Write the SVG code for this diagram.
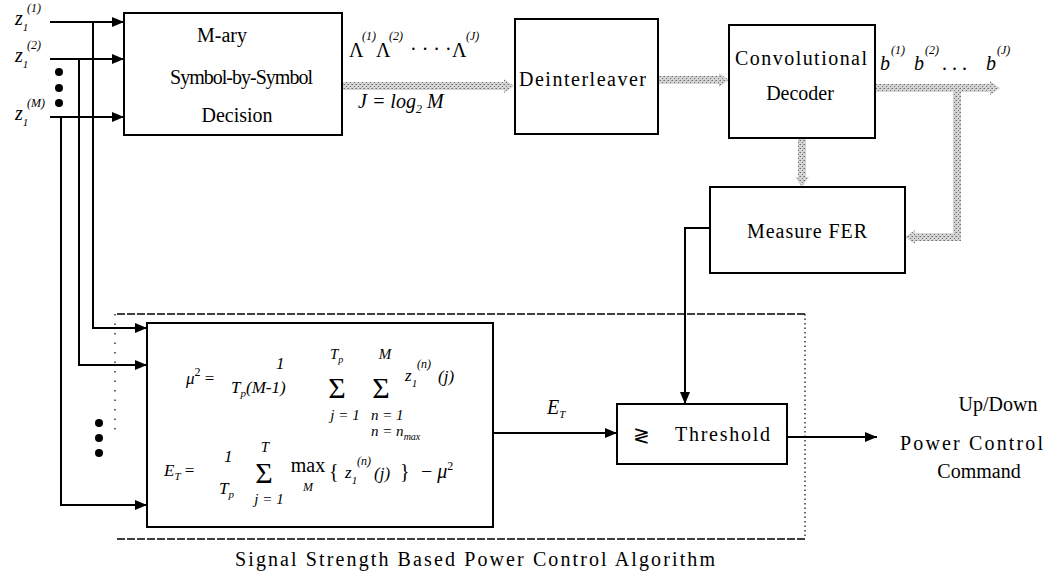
<svg xmlns="http://www.w3.org/2000/svg" width="1063" height="575" viewBox="0 0 1063 575">
<style>
.box{fill:#fff;stroke:#000;stroke-width:2}
.ln{fill:none;stroke:#000;stroke-width:2}
.t{font-family:"Liberation Serif","Times New Roman",serif;font-size:20px;fill:#000}
.i{font-style:italic}
.s{font-size:12px}
.m{font-size:17px;font-style:italic}
.lim{font-size:15px;font-style:italic}
.sig{font-size:30px}
.hat{fill:url(#hatch)}
.dot{fill:#000}
</style>
<defs>
<pattern id="hatch" width="4" height="4" patternUnits="userSpaceOnUse">
<rect width="4" height="4" fill="#d4d4d4"/>
<rect width="1" height="1" fill="#707070"/>
<rect x="2" y="2" width="1" height="1" fill="#707070"/>
<rect x="3" y="0" width="1" height="1" fill="#9c9c9c"/>
</pattern>
<marker id="arr" markerUnits="userSpaceOnUse" markerWidth="12" markerHeight="10" refX="12" refY="5" orient="auto">
<path d="M0,0 L12,5 L0,10 Z" fill="#000"/>
</marker>
</defs>

<g id="inputs">
<text class="t i" x="15" y="25" font-size="18">z<tspan dy="6" font-size="11">1</tspan></text><text class="t i s" x="27" y="12">(1)</text>
<text class="t i" x="15" y="62" font-size="18">z<tspan dy="6" font-size="11">1</tspan></text><text class="t i s" x="27" y="49">(2)</text>
<text class="t i" x="15" y="120" font-size="18">z<tspan dy="6" font-size="11">1</tspan></text><text class="t i s" x="27" y="107">(M)</text>
<circle class="dot" cx="59" cy="72" r="4"/><circle class="dot" cx="59" cy="88" r="4"/><circle class="dot" cx="59" cy="103" r="4"/>
</g>

<g id="connectors">
<path class="ln" d="M50,22 H124" marker-end="url(#arr)"/>
<path class="ln" d="M50,59 H124" marker-end="url(#arr)"/>
<path class="ln" d="M50,117 H124" marker-end="url(#arr)"/>
<path class="ln" d="M93,22 V328 H147" marker-end="url(#arr)"/>
<path class="ln" d="M79,59 V365 H147" marker-end="url(#arr)"/>
<path class="ln" d="M61,117 V505 H147" marker-end="url(#arr)"/>
<path class="ln" d="M710,228 H685 V404" marker-end="url(#arr)"/>
<path class="ln" d="M493,433 H617" marker-end="url(#arr)"/>
<path class="ln" d="M787,437 H877" marker-end="url(#arr)"/>
<path class="hat" d="M342,82 L504,82 L504,79 L514,86 L504,93 L504,90 L342,90 Z"/>
<path class="hat" d="M658,76 L719,76 L719,73 L729,80 L719,87 L719,84 L658,84 Z"/>
<path class="hat" d="M875,84 L990,84 L990,81 L1000,88 L990,95 L990,92 L875,92 Z"/>
<path class="hat" d="M953,92 L961,92 L961,241 L915,241 L915,244 L905,237 L915,230 L915,233 L953,233 Z"/>
<path class="hat" d="M798,139 L806,139 L806,177 L809,177 L802,187 L795,177 L798,177 Z"/>
<circle class="dot" cx="99" cy="423" r="4"/><circle class="dot" cx="99" cy="438" r="4"/><circle class="dot" cx="99" cy="453" r="4"/>
</g>

<g id="labels">
<text class="t" x="349" y="57" font-size="22">Λ</text><text class="t i s" x="362" y="40">(1)</text>
<text class="t" x="376" y="57" font-size="22">Λ</text><text class="t i s" x="389" y="40">(2)</text>
<text class="t" x="410" y="56">· · · ·</text>
<text class="t" x="452" y="57" font-size="22">Λ</text><text class="t i s" x="466" y="40">(J)</text>
<text class="t i" x="358" y="108">J = log<tspan dy="5" font-size="12">2</tspan><tspan dy="-5"> M</tspan></text>
<text class="t i" x="547" y="414" font-size="18">E<tspan dy="4" font-size="11">T</tspan></text>
<text class="t i" x="880" y="70">b</text><text class="t i s" x="891" y="54">(1)</text>
<text class="t i" x="914" y="70">b</text><text class="t i s" x="925" y="54">(2)</text>
<text class="t" x="942" y="70">. . .</text>
<text class="t i" x="986" y="70">b</text><text class="t i s" x="997" y="54">(J)</text>
<text class="t" x="998" y="411" text-anchor="middle">Up/Down</text>
<text class="t" x="900" y="450" textLength="143">Power Control</text>
<text class="t" x="979" y="478" text-anchor="middle" font-size="18">Command</text>
</g>

<g id="mary">
<rect class="box" x="124" y="13" width="218" height="122"/>
<text class="t" x="222" y="42" text-anchor="middle">M-ary</text>
<text class="t" x="170" y="84" textLength="143">Symbol-by-Symbol</text>
<text class="t" x="237" y="122" text-anchor="middle">Decision</text>
</g>

<g id="deinterleaver">
<rect class="box" x="515" y="19" width="143" height="115"/>
<text class="t" x="519" y="86" textLength="127" font-size="21">Deinterleaver</text>
</g>

<g id="decoder">
<rect class="box" x="729" y="25" width="146" height="113"/>
<text class="t" x="735" y="65" textLength="132">Convolutional</text>
<text class="t" x="800" y="100" text-anchor="middle">Decoder</text>
</g>

<g id="fer">
<rect class="box" x="710" y="187" width="195" height="86"/>
<text class="t" x="747" y="238" textLength="120">Measure FER</text>
</g>

<g id="algorithm">
<path d="M117,314 H805" fill="none" stroke="#000" stroke-width="1.5" stroke-dasharray="8 2"/>
<path d="M117,539 H805" fill="none" stroke="#000" stroke-width="1.5" stroke-dasharray="8 2"/>
<path d="M805,314 V539" fill="none" stroke="#000" stroke-width="1.2" stroke-dasharray="1.5 3"/>
<path d="M115,314 V435" fill="none" stroke="#000" stroke-width="1.2" stroke-dasharray="1.5 8"/>
<text class="t" x="235" y="566" font-size="24" textLength="480">Signal Strength Based Power Control Algorithm</text>
</g>

<g id="formula">
<rect class="box" x="147" y="323" width="346" height="204"/>
<text class="t m" x="186" y="384">μ<tspan dy="-8" font-size="12" font-style="normal">2</tspan><tspan dy="8" font-style="normal"> =</tspan></text>
<text class="t m" x="276" y="369">1</text>
<text class="t m" x="231" y="393">T<tspan dy="4" font-size="11">p</tspan><tspan dy="-4">(M-1)</tspan></text>
<text class="t lim" x="330" y="359">T<tspan dy="4" font-size="10">p</tspan></text>
<text class="t sig" x="337" y="398" text-anchor="middle">Σ</text>
<text class="t lim" x="345" y="420" text-anchor="middle">j = 1</text>
<text class="t lim" x="385" y="359" text-anchor="middle">M</text>
<text class="t sig" x="381" y="398" text-anchor="middle">Σ</text>
<text class="t lim" x="371" y="420">n = 1</text>
<text class="t lim" x="371" y="436">n = n<tspan dy="4" font-size="10">max</tspan></text>
<text class="t m" x="405" y="381">z<tspan dy="6" font-size="11">1</tspan></text>
<text class="t i s" x="417" y="368">(n)</text>
<text class="t m" x="438" y="382">(j)</text>

<text class="t m" x="164" y="476">E<tspan dy="4" font-size="11">T</tspan><tspan dy="-4" font-style="normal">  =</tspan></text>
<text class="t m" x="224" y="462">1</text>
<text class="t m" x="219" y="494">T<tspan dy="4" font-size="11">p</tspan></text>
<text class="t lim" x="265" y="452" text-anchor="middle">T</text>
<text class="t sig" x="264" y="483" text-anchor="middle">Σ</text>
<text class="t lim" x="269" y="504" text-anchor="middle">j = 1</text>
<text class="t" x="308" y="472" text-anchor="middle" font-size="15">max</text>
<text class="t i s" x="308" y="491" text-anchor="middle">M</text>
<text class="t" x="329" y="478" font-size="22">{</text>
<text class="t m" x="345" y="478">z<tspan dy="6" font-size="11">1</tspan></text>
<text class="t i s" x="357" y="465">(n)</text>
<text class="t m" x="374" y="479">(j)</text>
<text class="t" x="400" y="478" font-size="22">}</text>
<text class="t" x="421" y="478">− <tspan font-style="italic">μ</tspan><tspan dy="-8" font-size="12">2</tspan></text>
</g>

<g id="threshold">
<rect class="box" x="617" y="404" width="170" height="60"/>
<text class="t" x="633" y="442" font-size="22">≷</text>
<text class="t" x="675" y="441" textLength="95">Threshold</text>
</g>
</svg>
